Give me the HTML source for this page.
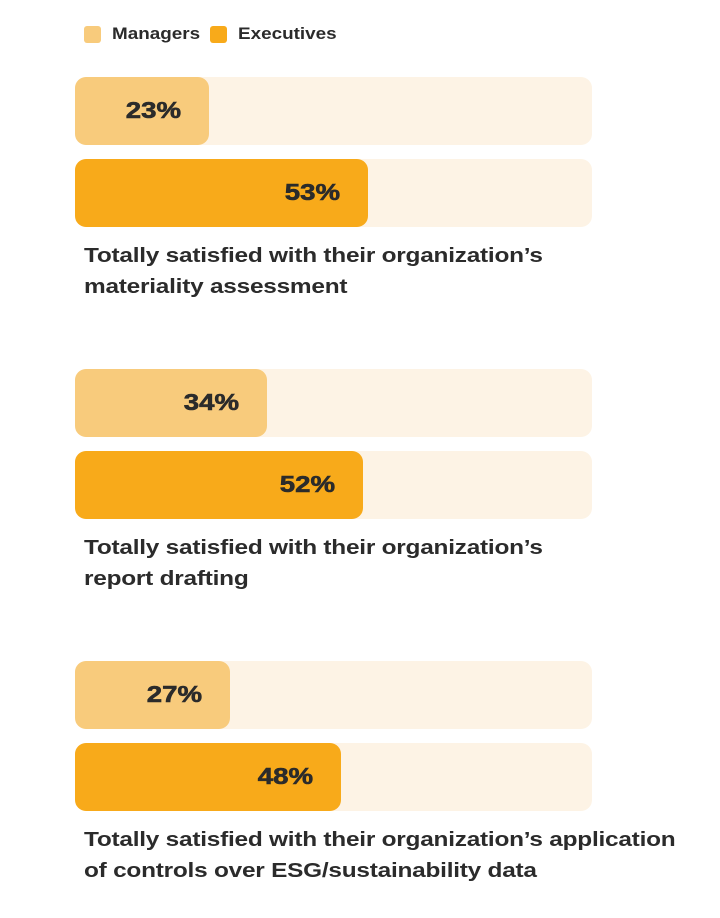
<!DOCTYPE html>
<html><head><meta charset="utf-8"><style>
body{margin:0;width:720px;height:918px;background:#fff;font-family:"Liberation Sans",sans-serif;position:relative;overflow:hidden}
.a{position:absolute}
.lg{font-size:17px;font-weight:bold;color:#2b2b2b;transform:scaleX(1.11);transform-origin:left top;white-space:nowrap}
.sw{width:17px;height:17px;border-radius:3px}
.cap{font-size:20.5px;font-weight:bold;color:#2b2b2b;line-height:31px;letter-spacing:-0.2px;transform:scaleX(1.19);transform-origin:left top;white-space:nowrap}
.val{font-size:23px;font-weight:900;color:#2b2b2b;letter-spacing:0px;-webkit-text-stroke:0.6px #2b2b2b}
.val span{display:inline-block;transform:scaleX(1.2);transform-origin:right top}
</style></head><body>
<div class="a sw" style="left:84px;top:26px;background:#F8CB7C"></div>
<div class="a lg" style="left:112px;top:24px">Managers</div>
<div class="a sw" style="left:210px;top:26px;background:#F8AA1A"></div>
<div class="a lg" style="left:238px;top:24px">Executives</div>
<div id="chart"></div>
<script>
const categories=["Totally satisfied with their organization’s<br>materiality assessment","Totally satisfied with their organization’s<br>report drafting","Totally satisfied with their organization’s application<br>of controls over ESG/sustainability data"];
const managers=[23,34,27];
const executives=[53,52,48];
const chart=document.getElementById('chart');
function w(v){return 12+v*5.3;}
function bar(top,v,color,name){
  const t=document.createElement('div');t.className='a';
  t.style.cssText=`left:75px;top:${top}px;width:517px;height:68px;border-radius:11px;background:#FDF3E5`;
  
  
  chart.appendChild(t);
  const b=document.createElement('div');b.className='a';
  b.style.cssText=`left:75px;top:${top}px;width:${w(v)}px;height:68px;border-radius:11px;background:${color}`;
  
  
  chart.appendChild(b);
  const l=document.createElement('div');l.className='a val';
  l.style.cssText=`left:75px;top:${top+20}px;width:${w(v)-28}px;text-align:right`;
  l.innerHTML='<span>'+v+'%</span>';
  
  
  chart.appendChild(l);
}
categories.forEach((c,i)=>{
  const y0=77+i*292;
  bar(y0,managers[i],'#F8CB7C','bar-managers-'+(i+1));
  bar(y0+82,executives[i],'#F8AA1A','bar-executives-'+(i+1));
  const cap=document.createElement('div');cap.className='a cap';
  cap.style.cssText=`left:84px;top:${y0+163}px`;
  cap.innerHTML=c;
  
  
  chart.appendChild(cap);
});
</script>
</body></html>
